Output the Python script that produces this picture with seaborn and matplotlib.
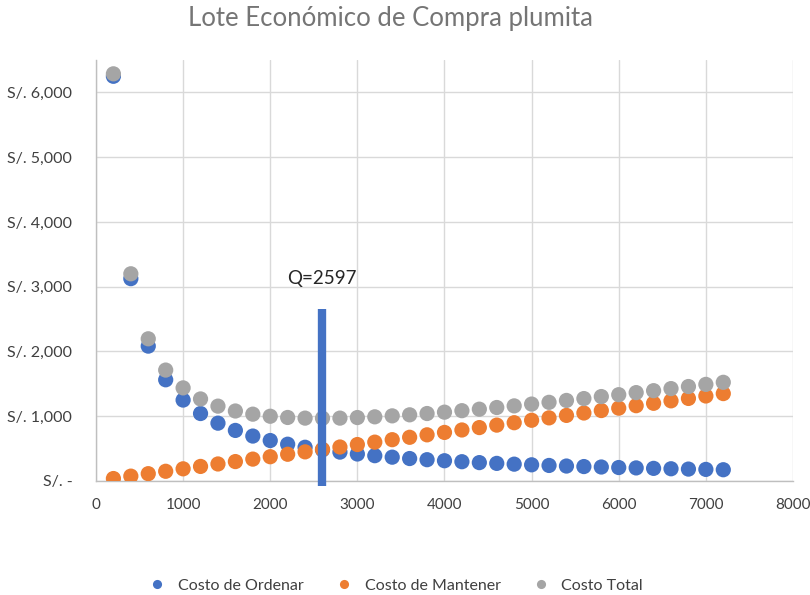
import matplotlib
matplotlib.use("Agg")
import matplotlib.pyplot as plt
import seaborn as sns
import pandas as pd
from matplotlib.ticker import FuncFormatter, MultipleLocator

# ---- data ----
lot_size = [200, 400, 600, 800, 1000, 1200, 1400, 1600, 1800, 2000, 2200, 2400,
            2600, 2800, 3000, 3200, 3400, 3600, 3800, 4000, 4200, 4400, 4600, 4800,
            5000, 5200, 5400, 5600, 5800, 6000, 6200, 6400, 6600, 6800, 7000, 7200]
costo_ordenar = [6250, 3125, 2083, 1563, 1250, 1042, 893, 781, 694, 625, 568, 521,
                 481, 446, 417, 391, 368, 347, 329, 313, 298, 284, 272, 260,
                 250, 240, 231, 223, 216, 208, 202, 195, 189, 184, 179, 174]
costo_mantener = [38, 75, 113, 150, 188, 225, 263, 300, 338, 375, 413, 450,
                  488, 525, 563, 600, 638, 675, 713, 750, 788, 825, 863, 900,
                  938, 975, 1013, 1050, 1088, 1125, 1163, 1200, 1238, 1275, 1313, 1350]
costo_total = [6288, 3200, 2196, 1713, 1438, 1267, 1156, 1081, 1032, 1000, 981, 971,
               969, 971, 980, 991, 1006, 1022, 1042, 1063, 1086, 1109, 1135, 1160,
               1188, 1215, 1244, 1273, 1304, 1333, 1365, 1395, 1427, 1459, 1492, 1524]
series_names = ["Costo de Ordenar", "Costo de Mantener", "Costo Total"]
q_optimo = 2597
q_bar_top = 2650
q_bar_bottom = -75
q_label = "Q=2597"
q_label_y = 3000
title = "Lote Económico de Compra plumita"

colors = ["#4472C4", "#ED7D31", "#A5A5A5"]

df = pd.DataFrame({
    "Q": lot_size * 3,
    "Costo": costo_ordenar + costo_mantener + costo_total,
    "Serie": [series_names[0]] * len(lot_size) + [series_names[1]] * len(lot_size)
             + [series_names[2]] * len(lot_size),
})

sns.set_theme(style="white")
plt.rcParams["font.family"] = ["Lato", "DejaVu Sans"]

fig = plt.figure(figsize=(8.1, 5.95), dpi=100)
ax = fig.add_axes([0.1185, 0.1916, 0.8605, 0.7074])

sns.scatterplot(data=df, x="Q", y="Costo", hue="Serie", hue_order=series_names,
                palette=colors, s=120, edgecolor="none", ax=ax, zorder=3,
                legend=True)

ax.vlines(q_optimo, q_bar_bottom, q_bar_top, colors="#4472C4", linewidth=6,
          zorder=4, clip_on=False)
ax.text(q_optimo, q_label_y, q_label, ha="center", va="bottom", fontsize=13.5,
        color="#262626")

ax.set_xlim(0, 8000)
ax.set_ylim(0, 6500)
ax.xaxis.set_major_locator(MultipleLocator(1000))
ax.set_yticks([0, 1000, 2000, 3000, 4000, 5000, 6000])


def fmt(v, pos):
    if v == 0:
        return "S/. -"
    return "S/. {:,.0f}".format(v)


ax.yaxis.set_major_formatter(FuncFormatter(fmt))
ax.grid(True, color="#D9D9D9", linewidth=1)
ax.set_axisbelow(True)
for side in ["top", "right"]:
    ax.spines[side].set_visible(False)
for side in ["left", "bottom"]:
    ax.spines[side].set_color("#BFBFBF")
    ax.spines[side].set_linewidth(1)
ax.tick_params(axis="y", length=0, pad=17, labelsize=11.5, labelcolor="#404040")
ax.tick_params(axis="x", length=0, pad=12, labelsize=11, labelcolor="#404040")
ax.set_xlabel("")
ax.set_ylabel("")

fig.suptitle(title, x=0.482, y=0.99, fontsize=18.5, color="#757575")

leg = ax.legend(loc="lower center", bbox_to_anchor=(0.425, -0.30), ncol=3,
                frameon=False, fontsize=11.5, markerscale=0.6, handletextpad=0.3,
                columnspacing=1.5)
for t in leg.get_texts():
    t.set_color("#404040")

fig.savefig("out.png", dpi=100)
